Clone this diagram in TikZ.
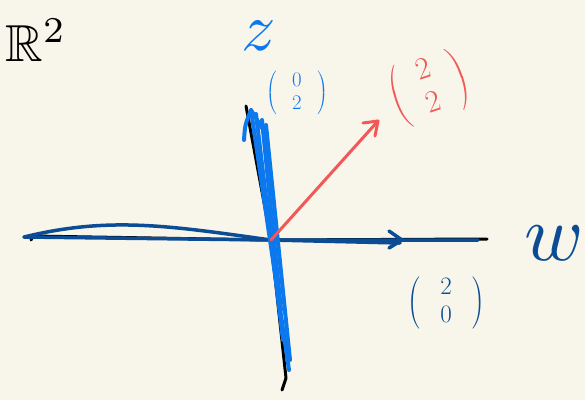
\documentclass[tikz,border=0pt]{standalone}
\usepackage{amsmath,amssymb}
\usetikzlibrary{arrows.meta}
\definecolor{bg}{HTML}{F8F6EA}
\definecolor{zblue}{HTML}{0C78EE}
\definecolor{wblue}{HTML}{0B4C94}
\definecolor{vred}{HTML}{F25858}
\newcommand{\myvec}[3]{$\left(\hspace{#3}\begin{array}{@{}c@{}}\text{\LARGE #1}\\[4pt]\text{\LARGE #2}\end{array}\hspace{#3}\right)$}
\tikzset{
  axis/.style={draw=black, line width=3pt},
  zstroke/.style={draw=zblue, line width=4pt},
  wstroke/.style={draw=wblue, line width=3.5pt},
  vstroke/.style={draw=vred, line width=3pt},
  lab/.style={inner sep=0pt}
}
\begin{document}
\begin{tikzpicture}[x=1pt, y=-1pt, line cap=round, line join=round]
\fill[bg] (0,0) rectangle (585,400);
\useasboundingbox (0,0) rectangle (585,400);
% key points
\coordinate (O) at (271,240);
\coordinate (xl) at (31,240);
\coordinate (xlh) at (33,236);
\coordinate (xr) at (487,239);
\coordinate (yt) at (246,106);
\coordinate (yb) at (286,378);
\coordinate (ybh) at (282,390);
% black axes
\draw[axis] (xl) -- (xlh) -- (O) -- (xr);
\draw[axis] (yt) -- (O) -- (yb) -- (ybh);
% dark blue w strokes
\coordinate (wl) at (24,237);
\coordinate (wr) at (478,240);
\coordinate (wtip) at (402,240);
\coordinate (wa1) at (389,231);
\coordinate (wa2) at (389,248);
\draw[wstroke] (wl) .. controls (110,216) and (170,226) .. (O);
\draw[wstroke] (wl) -- (O) -- (wr);
\draw[wstroke] (O) -- (400,243);
\draw[wstroke] (wa1) -- (wtip) -- (wa2);
% blue z strokes
\coordinate (zt) at (251,110);
\coordinate (zb) at (289,370);
\coordinate (za1) at (244,140);
\coordinate (za2) at (262,128);
\draw[zstroke] (zt) -- (zb);
\draw[zstroke] (256,114) -- (O) -- (283,340);
\draw[zstroke] (262,120) -- (281,310);
\draw[zstroke] (266,125) -- (290,360);
\draw[zstroke] (za1) .. controls (245,125) .. (zt) -- (za2);
% red vector
\coordinate (vt) at (378,121);
\draw[vstroke] (O) -- (vt);
\draw[vstroke] (363,123) -- (vt) -- (375,136);
% labels
\node[lab, scale=5.2] (R2) at (36,40) {$\mathbb{R}^2$};
\node[lab, text=zblue, scale=6.8] (zl) at (259,36) {$z$};
\node[lab, text=zblue, scale=1.2] (z02) at (297,93) {\myvec{0}{2}{13pt}};
\node[lab, text=vred, scale=1.8, rotate=18] (v22) at (429,88) {\myvec{2}{2}{10pt}};
\node[lab, text=wblue, scale=8] (wl2) at (554,243) {$w$};
\node[lab, text=wblue, scale=1.45] (w20) at (446,303) {\myvec{2}{0}{14pt}};
\end{tikzpicture}
\end{document}
